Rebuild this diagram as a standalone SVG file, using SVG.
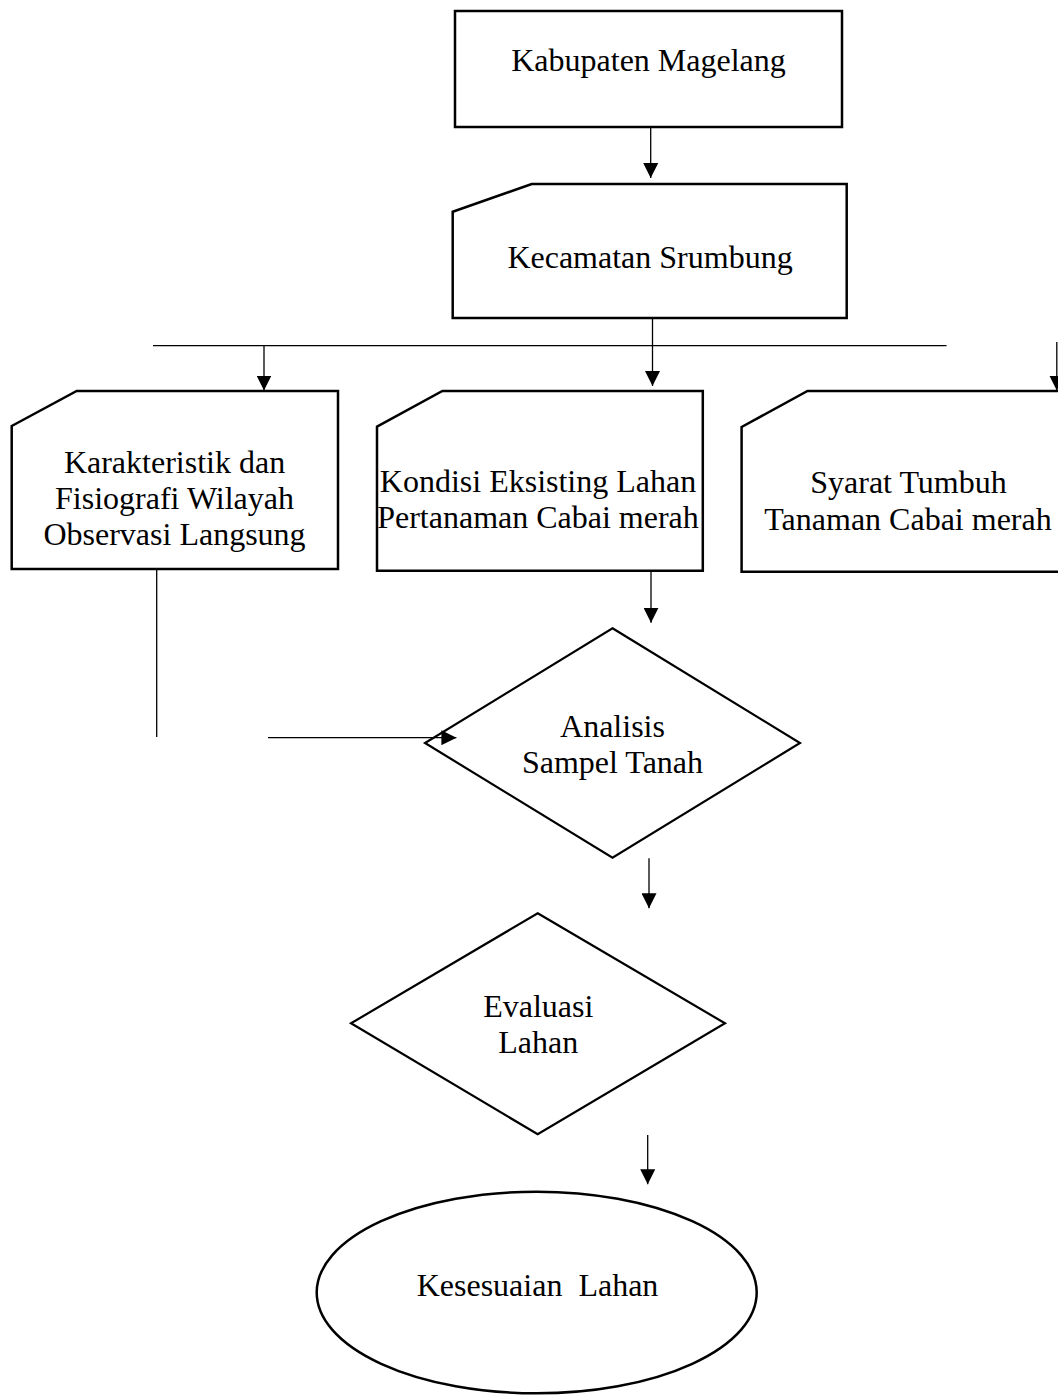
<svg xmlns="http://www.w3.org/2000/svg" width="1058" height="1395" viewBox="0 0 1058 1395">
<defs>
<style>
.node{fill:#fff;stroke:#000;stroke-width:2.5}
.dia{fill:#fff;stroke:#000;stroke-width:2.2}
.t{font-family:"Liberation Serif","Times New Roman",serif;font-size:32px;fill:#000;text-anchor:middle}
.c{stroke:#000;stroke-width:1.3;fill:none}
.a{marker-end:url(#ah)}
</style>
<marker id="ah" markerUnits="userSpaceOnUse" markerWidth="15" markerHeight="15" refX="15" refY="7.5" orient="auto" viewBox="0 0 15 15">
<path d="M0,0 L15,7.5 L0,15 z" fill="#000"/>
</marker>
</defs>
<rect width="1058" height="1395" fill="#fff"/>
<g id="kabupaten">
<rect class="node" x="455" y="11" width="387" height="116"/>
<text class="t" x="648.5" y="71">Kabupaten Magelang</text>
</g>
<g id="kecamatan">
<path class="node" d="M452.7,211.7 L531.7,184 L846.7,184 L846.7,318 L452.7,318 Z"/>
<text class="t" x="650" y="268">Kecamatan Srumbung</text>
</g>
<g id="karakteristik">
<path class="node" d="M11.7,426 L76.7,391 L338,391 L338,569 L11.7,569 Z"/>
<text class="t" x="174.5" y="472.7">Karakteristik dan</text>
<text class="t" x="174.5" y="508.5">Fisiografi Wilayah</text>
<text class="t" x="174.5" y="545">Observasi Langsung</text>
</g>
<g id="kondisi">
<path class="node" d="M377,426.7 L442.4,391 L702.8,391 L702.8,570.7 L377,570.7 Z"/>
<text class="t" x="538" y="491.7">Kondisi Eksisting Lahan</text>
<text class="t" x="538" y="528">Pertanaman Cabai merah</text>
</g>
<g id="syarat">
<path class="node" d="M741.6,427 L807.5,391 L1064,391 L1064,571.7 L741.6,571.7 Z"/>
<text class="t" x="908.5" y="493">Syarat Tumbuh</text>
<text class="t" x="908" y="530">Tanaman Cabai merah</text>
</g>
<g id="analisis">
<path class="dia" d="M612.5,628.3 L800,743 L612.5,857.7 L425,743 Z"/>
<text class="t" x="612.5" y="736.7">Analisis</text>
<text class="t" x="612.5" y="773.3">Sampel Tanah</text>
</g>
<g id="evaluasi">
<path class="dia" d="M537.7,913.3 L725,1023.3 L537.7,1134.3 L351,1023.3 Z"/>
<text class="t" x="538.3" y="1016.7">Evaluasi</text>
<text class="t" x="538.3" y="1052.7">Lahan</text>
</g>
<g id="kesesuaian">
<ellipse class="node" cx="536.7" cy="1292.5" rx="220" ry="100.8"/>
<text class="t" x="537.5" y="1296" xml:space="preserve">Kesesuaian  Lahan</text>
</g>
<g id="connectors">
<line class="c a" x1="650.7" y1="127" x2="650.7" y2="178"/>
<line class="c" x1="652.5" y1="318" x2="652.5" y2="346"/>
<line class="c" x1="153" y1="345.7" x2="946.5" y2="345.7"/>
<line class="c a" x1="264" y1="345.7" x2="264" y2="390.5"/>
<line class="c a" x1="652.5" y1="345.7" x2="652.5" y2="386"/>
<line class="c a" x1="1056.8" y1="342" x2="1056.8" y2="390.5"/>
<line class="c" x1="156.7" y1="569" x2="156.7" y2="737"/>
<line class="c a" x1="268" y1="737.7" x2="456.4" y2="737.7"/>
<line class="c a" x1="651" y1="571" x2="651" y2="622.7"/>
<line class="c a" x1="649" y1="858.3" x2="649" y2="908.3"/>
<line class="c a" x1="647.7" y1="1135" x2="647.7" y2="1184.3"/>
</g>
</svg>
